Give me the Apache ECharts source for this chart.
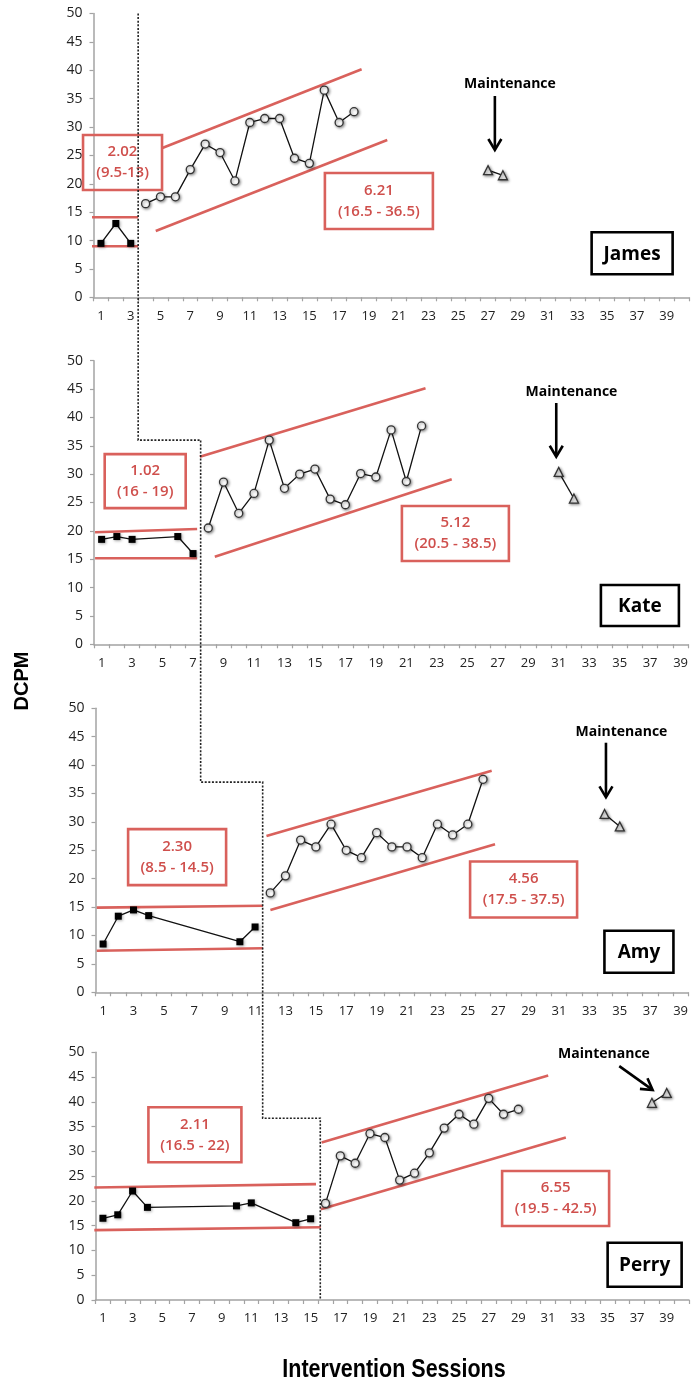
<!DOCTYPE html>
<html>
<head>
<meta charset="utf-8">
<script src="https://cdn.jsdelivr.net/npm/echarts@6/dist/echarts.min.js"></script>
<style>
  html, body { margin: 0; padding: 0; background: #ffffff; }
  #chart { width: 691px; height: 1385px; }
</style>
</head>
<body>
<div id="chart"></div>
<script>
// ---- Data: DCPM per session for each student ----
const students = ['James', 'Kate', 'Amy', 'Perry'];

const jamesBaselineSessions = [1, 2, 3];
const jamesBaselineValues = [9.5, 13, 9.5];
const jamesInterventionSessions = [4, 5, 6, 7, 8, 9, 10, 11, 12, 13, 14, 15, 16, 17, 18];
const jamesInterventionValues = [16.5, 17.7, 17.7, 22.5, 27, 25.5, 20.5, 30.8, 31.5, 31.5, 24.5, 23.6, 36.5, 30.8, 32.7];
const jamesMaintenanceSessions = [27, 28];
const jamesMaintenanceValues = [22.4, 21.5];
const jamesBaselineUpper = [[0.4, 14.1], [3.5, 14.1]];
const jamesBaselineLower = [[0.4, 9.0], [3.5, 9.0]];
const jamesTrendUpper = [[5.08, 26.25], [18.51, 40.17]];
const jamesTrendLower = [[4.68, 11.68], [20.23, 27.71]];

const kateBaselineSessions = [1, 2, 3, 6, 7];
const kateBaselineValues = [18.5, 19, 18.5, 19, 16];
const kateInterventionSessions = [8, 9, 10, 11, 12, 13, 14, 15, 16, 17, 18, 19, 20, 21, 22];
const kateInterventionValues = [20.5, 28.6, 23.1, 26.6, 36, 27.5, 30, 30.9, 25.6, 24.6, 30.1, 29.5, 37.8, 28.7, 38.5];
const kateMaintenanceSessions = [31, 32];
const kateMaintenanceValues = [30.4, 25.7];
const kateBaselineUpper = [[0.57, 19.75], [7.27, 20.33]];
const kateBaselineLower = [[0.57, 15.16], [7.27, 15.16]];
const kateTrendUpper = [[7.45, 33.07], [22.26, 45.13]];
const kateTrendLower = [[8.43, 15.44], [23.98, 29.09]];

const amyBaselineSessions = [1, 2, 3, 4, 10, 11];
const amyBaselineValues = [8.5, 13.4, 14.5, 13.5, 8.9, 11.5];
const amyInterventionSessions = [12, 13, 14, 15, 16, 17, 18, 19, 20, 21, 22, 23, 24, 25, 26];
const amyInterventionValues = [17.5, 20.5, 26.8, 25.6, 29.6, 25, 23.7, 28.1, 25.6, 25.6, 23.7, 29.6, 27.7, 29.6, 37.5];
const amyMaintenanceSessions = [34, 35];
const amyMaintenanceValues = [31.4, 29.2];
const amyBaselineUpper = [[0.58, 14.9], [11.52, 15.25]];
const amyBaselineLower = [[0.58, 7.32], [11.52, 7.75]];
const amyTrendUpper = [[11.75, 27.5], [26.57, 39.0]];
const amyTrendLower = [[12.01, 14.5], [26.79, 26.06]];

const perryBaselineSessions = [1, 2, 3, 4, 10, 11, 14, 15];
const perryBaselineValues = [16.5, 17.2, 22, 18.7, 19, 19.6, 15.6, 16.4];
const perryInterventionSessions = [16, 17, 18, 19, 20, 21, 22, 23, 24, 25, 26, 27, 28, 29];
const perryInterventionValues = [19.5, 29.1, 27.6, 33.6, 32.8, 24.2, 25.6, 29.7, 34.7, 37.5, 35.5, 40.7, 37.5, 38.5];
const perryMaintenanceSessions = [38, 39];
const perryMaintenanceValues = [39.8, 41.8];
const perryBaselineUpper = [[0.42, 22.7], [15.36, 23.4]];
const perryBaselineLower = [[0.42, 14.1], [15.68, 14.7]];
const perryTrendUpper = [[15.74, 31.8], [31.01, 45.3]];
const perryTrendLower = [[15.68, 18.3], [32.2, 32.8]];

// Level / trend statistics shown in the boxes
const baselineStats = [['2.02', '(9.5-13)'], ['1.02', '(16 - 19)'], ['2.30', '(8.5 - 14.5)'], ['2.11', '(16.5 - 22)']];
const interventionStats = [['6.21', '(16.5 - 36.5)'], ['5.12', '(20.5 - 38.5)'], ['4.56', '(17.5 - 37.5)'], ['6.55', '(19.5 - 42.5)']];

// Phase-change points (panel, session, DCPM) of the staggered dotted line
const phaseSessions = [3.5, 7.5, 11.5, 15.65];
const phaseLevels = [36, 37, 36.7];

// Axis ticks
const sessionLabels = ['1','2','3','4','5','6','7','8','9','10','11','12','13','14','15','16','17','18','19','20',
  '21','22','23','24','25','26','27','28','29','30','31','32','33','34','35','36','37','38','39','40'];
const dcpmMin = 0, dcpmMax = 50, dcpmStep = 5;

// ---- Layout ----
const RED = '#d9615c';
const RED_TEXT = '#cf4f4c';
const AXIS = '#a3a3a3';
const FONT = "'Open Sans', 'Noto Sans', sans-serif";

const panelLayout = [
  { left: 93.5, top: 13.5, width: 595.5, height: 283.8, n: 40 },
  { left: 94, top: 360.7, width: 595, height: 283.6, n: 39 },
  { left: 95.5, top: 708.3, width: 593.5, height: 284, n: 39 },
  { left: 95.5, top: 1052.3, width: 593.5, height: 247.7, n: 40 }
];

// Annotation anchors, in each panel's [session, DCPM] coordinates
const annotations = [
  { base: { at: [2.45, 23.75], w: 79, h: 55 }, trend: { at: [19.67, 16.97], w: 108, h: 56 },
    maint: [28.47, 37.58], arrow: [[27.46, 35.47], [27.46, 25.95]], tag: { at: [36.68, 7.75], w: 81, h: 42 } },
  { base: { at: [3.86, 28.76], w: 81, h: 54 }, trend: { at: [24.22, 19.53], w: 107, h: 55 },
    maint: [31.84, 44.53], arrow: [[30.84, 42.54], [30.84, 33.07]], tag: { at: [36.33, 6.84], w: 78, h: 41 } },
  { base: { at: [5.87, 23.79], w: 98, h: 56 }, trend: { at: [28.67, 18.1], w: 107, h: 56 },
    maint: [35.11, 45.88], arrow: [[34.09, 43.94], [34.09, 34.33]], tag: { at: [36.26, 7.15], w: 69, h: 42 } },
  { base: { at: [7.2, 33.35], w: 93, h: 55 }, trend: { at: [31.51, 20.49], w: 107, h: 55 },
    maint: [34.77, 49.6], arrow: [[35.8, 47.2], [38.05, 42.4]], tag: { at: [37.51, 7.13], w: 74, h: 44 } }
];

const panels = [
  { bS: jamesBaselineSessions, bV: jamesBaselineValues, iS: jamesInterventionSessions, iV: jamesInterventionValues,
    mS: jamesMaintenanceSessions, mV: jamesMaintenanceValues, bU: jamesBaselineUpper, bL: jamesBaselineLower,
    tU: jamesTrendUpper, tL: jamesTrendLower },
  { bS: kateBaselineSessions, bV: kateBaselineValues, iS: kateInterventionSessions, iV: kateInterventionValues,
    mS: kateMaintenanceSessions, mV: kateMaintenanceValues, bU: kateBaselineUpper, bL: kateBaselineLower,
    tU: kateTrendUpper, tL: kateTrendLower },
  { bS: amyBaselineSessions, bV: amyBaselineValues, iS: amyInterventionSessions, iV: amyInterventionValues,
    mS: amyMaintenanceSessions, mV: amyMaintenanceValues, bU: amyBaselineUpper, bL: amyBaselineLower,
    tU: amyTrendUpper, tL: amyTrendLower },
  { bS: perryBaselineSessions, bV: perryBaselineValues, iS: perryInterventionSessions, iV: perryInterventionValues,
    mS: perryMaintenanceSessions, mV: perryMaintenanceValues, bU: perryBaselineUpper, bL: perryBaselineLower,
    tU: perryTrendUpper, tL: perryTrendLower }
];

const zip = (xs, ys) => xs.map((x, k) => [x, ys[k]]);

const grid = [], xAxis = [], yAxis = [], series = [];

panelLayout.forEach((L, i) => {
  grid.push({ left: L.left, top: L.top, width: L.width, height: L.height });
  // visible session axis (ticks between sessions, odd labels)
  xAxis.push({
    type: 'category', gridIndex: i, data: sessionLabels.slice(0, L.n), boundaryGap: true,
    axisLine: { lineStyle: { color: AXIS, width: 1.5 } },
    axisTick: { show: true, interval: 0, length: 4, lineStyle: { color: AXIS, width: 1.2 } },
    axisLabel: { interval: 1, color: '#222', fontSize: 13, fontFamily: FONT, margin: 12 },
    splitLine: { show: false }
  });
  // numeric session axis used to place the data
  xAxis.push({ type: 'value', gridIndex: i, min: 0.5, max: L.n + 0.5, show: false, splitLine: { show: false } });
  yAxis.push({
    type: 'value', gridIndex: i, min: dcpmMin, max: dcpmMax, interval: dcpmStep,
    axisLine: { show: true, lineStyle: { color: AXIS, width: 1.5 } },
    axisTick: { show: true, length: 4, lineStyle: { color: AXIS, width: 1.2 } },
    axisLabel: { color: '#222', fontSize: 14, fontFamily: FONT, margin: 11 },
    splitLine: { show: false }
  });

  const P = panels[i];
  const xi = 2 * i + 1;
  const bandLine = (data) => ({
    type: 'line', xAxisIndex: xi, yAxisIndex: i, data, symbol: 'none', silent: true, z: 2,
    lineStyle: { color: RED, width: 2.6 }
  });
  series.push(bandLine(P.bU), bandLine(P.bL), bandLine(P.tU), bandLine(P.tL));

  series.push({
    type: 'line', xAxisIndex: xi, yAxisIndex: i, data: zip(P.bS, P.bV), z: 4,
    symbol: 'rect', symbolSize: 7,
    lineStyle: { color: '#111', width: 1.3 },
    itemStyle: { color: '#000', borderColor: '#000', borderWidth: 0, shadowBlur: 3, shadowColor: 'rgba(0,0,0,0.35)', shadowOffsetX: 1, shadowOffsetY: 1 }
  });
  series.push({
    type: 'line', xAxisIndex: xi, yAxisIndex: i, data: zip(P.iS, P.iV), z: 4,
    symbol: 'circle', symbolSize: 8,
    lineStyle: { color: '#111', width: 1.3 },
    itemStyle: { color: '#ffffff', borderColor: '#333', borderWidth: 1.3, shadowBlur: 3, shadowColor: 'rgba(0,0,0,0.45)', shadowOffsetX: 1, shadowOffsetY: 1 }
  });
  series.push({
    type: 'line', xAxisIndex: xi, yAxisIndex: i, data: zip(P.mS, P.mV), z: 4,
    symbol: 'triangle', symbolSize: 9,
    lineStyle: { color: '#111', width: 1.3 },
    itemStyle: { color: '#eeeeee', borderColor: '#333', borderWidth: 1.3, shadowBlur: 3, shadowColor: 'rgba(0,0,0,0.45)', shadowOffsetX: 1, shadowOffsetY: 1 }
  });
});

const chart = echarts.init(document.getElementById('chart'), null, { renderer: 'canvas' });
chart.setOption({ animation: false, backgroundColor: '#ffffff', grid, xAxis, yAxis, series });

// ---- Overlay graphics, positioned through each panel's axes ----
const toPx = (i, pt) => chart.convertToPixel({ xAxisIndex: 2 * i + 1, yAxisIndex: i }, pt);
const graphics = [];

function statBox(i, spec, lines) {
  const c = toPx(i, spec.at);
  graphics.push({
    type: 'rect', z: 50,
    shape: { x: c[0] - spec.w / 2, y: c[1] - spec.h / 2, width: spec.w, height: spec.h },
    style: { fill: 'rgba(255,255,255,0)', stroke: RED, lineWidth: 2.6 }
  });
  graphics.push({
    type: 'text', z: 51, x: c[0], y: c[1],
    style: {
      text: lines.join('\n'), fill: RED_TEXT, font: '600 15px ' + FONT, lineHeight: 21,
      align: 'center', verticalAlign: 'middle', textAlign: 'center', textVerticalAlign: 'middle'
    }
  });
}

function nameTag(i, spec, label) {
  const c = toPx(i, spec.at);
  graphics.push({
    type: 'rect', z: 50,
    shape: { x: c[0] - spec.w / 2, y: c[1] - spec.h / 2, width: spec.w, height: spec.h },
    style: { fill: '#ffffff', stroke: '#000', lineWidth: 2.6 }
  });
  graphics.push({
    type: 'text', z: 51, x: c[0], y: c[1] + 1,
    style: {
      text: label, fill: '#000', font: 'bold 19px ' + FONT,
      align: 'center', verticalAlign: 'middle', textAlign: 'center', textVerticalAlign: 'middle'
    }
  });
}

function maintenance(i, at, arrow) {
  const c = toPx(i, at);
  graphics.push({
    type: 'text', z: 51, x: c[0], y: c[1],
    style: {
      text: 'Maintenance', fill: '#000', font: 'bold 14px ' + FONT,
      align: 'center', verticalAlign: 'middle', textAlign: 'center', textVerticalAlign: 'middle'
    }
  });
  const a = toPx(i, arrow[0]);
  const b = toPx(i, arrow[1]);
  const dx = b[0] - a[0], dy = b[1] - a[1];
  const len = Math.sqrt(dx * dx + dy * dy);
  const ux = dx / len, uy = dy / len;
  const head = 11, half = 6.5;
  graphics.push({
    type: 'line', z: 51,
    shape: { x1: a[0], y1: a[1], x2: b[0] - ux, y2: b[1] - uy },
    style: { stroke: '#000', lineWidth: 2.6 }
  });
  graphics.push({
    type: 'polyline', z: 51,
    shape: { points: [
      [b[0] - ux * head - uy * half, b[1] - uy * head + ux * half],
      [b[0], b[1]],
      [b[0] - ux * head + uy * half, b[1] - uy * head - ux * half]
    ] },
    style: { stroke: '#000', lineWidth: 2.6, fill: 'none' }
  });
}

students.forEach((name, i) => {
  const A = annotations[i];
  statBox(i, A.base, baselineStats[i]);
  statBox(i, A.trend, interventionStats[i]);
  maintenance(i, A.maint, A.arrow);
  nameTag(i, A.tag, name);
});

// staggered phase-change line running through all four panels
const phasePts = [];
let p = toPx(0, [phaseSessions[0], dcpmMax]);
phasePts.push(p);
for (let i = 1; i < 4; i++) {
  const q = toPx(i, [phaseSessions[i], phaseLevels[i - 1]]);
  phasePts.push([p[0], q[1]]);
  p = [q[0], q[1]];
  phasePts.push(p);
}
phasePts.push([p[0], toPx(3, [phaseSessions[3], dcpmMin])[1]]);
graphics.push({
  type: 'polyline', z: 60, silent: true,
  shape: { points: phasePts },
  style: { stroke: '#222', lineWidth: 1.6, lineDash: [2, 1.6], fill: 'none' }
});

// axis titles
graphics.push({
  type: 'text', z: 51, x: 22, y: 681, rotation: Math.PI / 2,
  style: {
    text: 'DCPM', fill: '#000', font: "bold 20px 'Liberation Sans', Arial, sans-serif",
    align: 'center', verticalAlign: 'middle', textAlign: 'center', textVerticalAlign: 'middle'
  }
});
graphics.push({
  type: 'text', z: 51, x: 394, y: 1370, scaleX: 0.86,
  style: {
    text: 'Intervention Sessions', fill: '#000', font: "bold 25px 'Liberation Sans', Arial, sans-serif",
    align: 'center', verticalAlign: 'middle', textAlign: 'center', textVerticalAlign: 'middle'
  }
});

chart.setOption({ graphic: graphics });
</script>
</body>
</html>
